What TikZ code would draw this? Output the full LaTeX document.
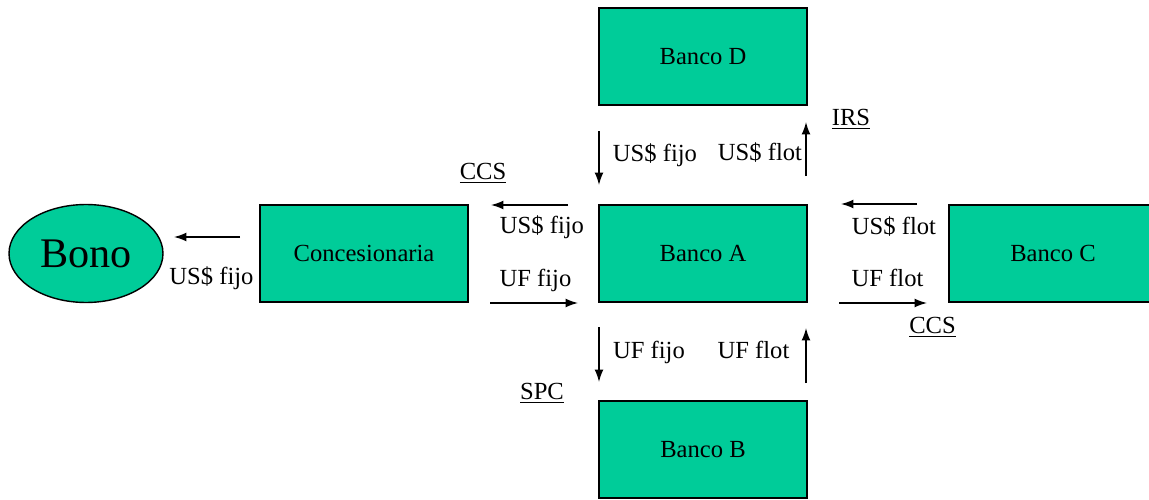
\documentclass[tikz,border=0pt]{standalone}
\usepackage{fontspec}
\setmainfont{Liberation Serif}
\usepackage{tikz}
\usetikzlibrary{arrows.meta,positioning,shapes.geometric}
\definecolor{verde}{HTML}{00CC99}
\tikzset{
banco/.style={draw,fill=verde,line width=0.8pt,minimum width=4.16cm,minimum height=1.94cm,inner sep=0pt,font=\fontsize{14}{16}\selectfont},
flujo/.style={-{Latex[length=7pt,width=5pt]},line width=0.8pt},
etiq/.style={inner sep=0pt,font=\fontsize{14}{16}\selectfont}
}

\begin{document}
\begin{tikzpicture}[x=0.02cm,y=-0.02cm]
\useasboundingbox (0,0) rectangle (1149,500);
\clip (0,0) rectangle (1149,500);
\node[ellipse,draw,fill=verde,line width=0.8pt,minimum width=3.08cm,minimum height=1.96cm,inner sep=0pt,font=\fontsize{24}{28}\selectfont] (bono) at (86,253.5) {Bono};
\node[banco] (conc) at (364,253.5) {Concesionaria};
\node[banco] (bancoA) at (703,253.5) {Banco A};
\node[banco] (bancoB) at (703,449.5) {Banco B};
\node[banco] (bancoC) at (1053,253.5) {Banco C};
\node[banco] (bancoD) at (703,56.5) {Banco D};
\coordinate (b1) at (240,237);
\coordinate (b2) at (174,237);
\draw[flujo] (b1) -- (b2);
\coordinate (c1) at (568,205);
\coordinate (c2) at (491,205);
\draw[flujo] (c1) -- (c2);
\coordinate (c3) at (490,303);
\coordinate (c4) at (578,303);
\draw[flujo] (c3) -- (c4);
\coordinate (d1) at (599,131);
\coordinate (d2) at (599,185);
\draw[flujo] (d1) -- (d2);
\coordinate (d3) at (806,176);
\coordinate (d4) at (806,122);
\draw[flujo] (d3) -- (d4);
\coordinate (e1) at (917,204);
\coordinate (e2) at (841,204);
\draw[flujo] (e1) -- (e2);
\coordinate (e3) at (839,303);
\coordinate (e4) at (927,303);
\draw[flujo] (e3) -- (e4);
\coordinate (f1) at (599,327);
\coordinate (f2) at (599,382);
\draw[flujo] (f1) -- (f2);
\coordinate (f3) at (806,383);
\coordinate (f4) at (806,328);
\draw[flujo] (f3) -- (f4);
\node[etiq] (lb) at (211.5,278) {US\$ fijo};
\node[etiq] (lc1) at (542,227) {US\$ fijo};
\node[etiq] (lc2) at (535.5,280) {UF fijo};
\node[etiq] (ccs1) at (483,173) {\underline{CCS}};
\node[etiq] (ld1) at (655,155) {US\$ fijo};
\node[etiq] (ld2) at (760,153) {US\$ flot};
\node[etiq] (irs) at (851,119) {\underline{IRS}};
\node[etiq] (le1) at (894,227) {US\$ flot};
\node[etiq] (le2) at (887.5,278) {UF flot};
\node[etiq] (ccs2) at (932.5,327) {\underline{CCS}};
\node[etiq] (lf1) at (649,352) {UF fijo};
\node[etiq] (lf2) at (753.5,350) {UF flot};
\node[etiq] (spc) at (542,393) {\underline{SPC}};
\end{tikzpicture}
\end{document}
